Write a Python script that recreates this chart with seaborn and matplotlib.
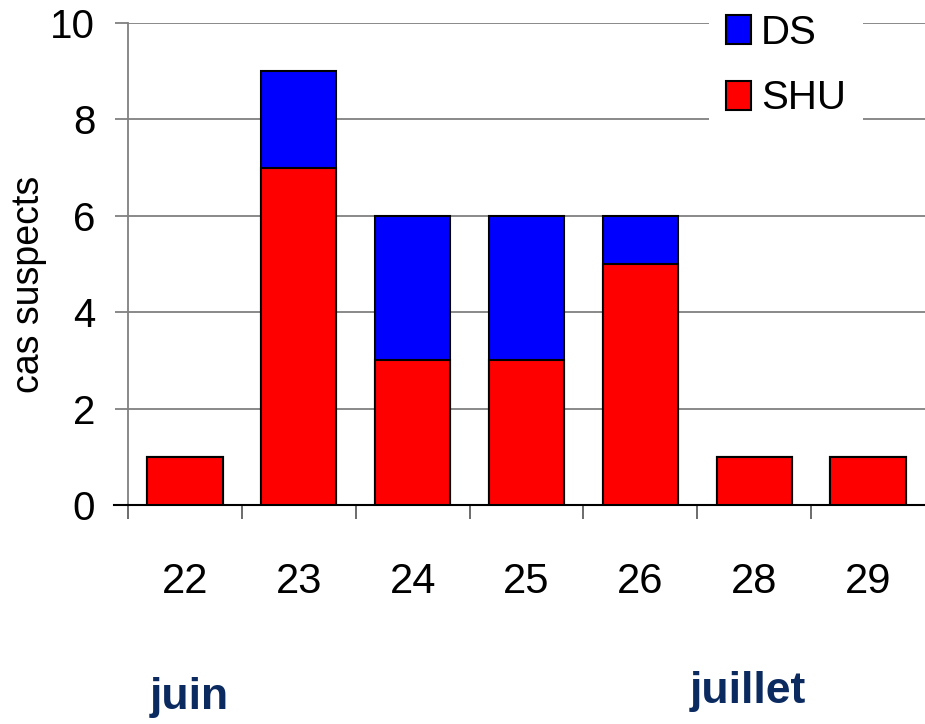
import matplotlib
matplotlib.use("Agg")
import matplotlib.pyplot as plt
import seaborn as sns
import pandas as pd
import numpy as np

weeks = ["22", "23", "24", "25", "26", "28", "29"]
shu = [1, 7, 3, 3, 5, 1, 1]
ds = [0, 2, 3, 3, 1, 0, 0]
yticks = [0, 2, 4, 6, 8, 10]

sns.set_theme(style="white")
plt.rcParams['font.family'] = ['Liberation Sans', 'DejaVu Sans']
plt.rcParams['text.color'] = 'black'
plt.rcParams['axes.labelcolor'] = 'black'

df = pd.DataFrame({"week": weeks, "SHU": shu, "DS": ds})
df["total"] = df["SHU"] + df["DS"]

fig = plt.figure(figsize=(9.25, 7.24), dpi=100)
ax = fig.add_axes([128/925, 1-505/724, 797/925, 482/724])

for y in yticks:
    ax.axhline(y, color="#808080", lw=1.3, zorder=0)

sns.barplot(data=df, x="week", y="total", color="#0000ff", edgecolor="black",
            linewidth=1.5, width=0.66, saturation=1, ax=ax, label="DS", zorder=2)
sns.barplot(data=df, x="week", y="SHU", color="#ff0000", edgecolor="black",
            linewidth=1.5, width=0.66, saturation=1, ax=ax, label="SHU", zorder=3)
if ax.get_legend() is not None:
    ax.get_legend().remove()

ax.set_xlim(-0.5, 6.5)
ax.set_ylim(0, 10)
ax.set_yticks(yticks)
ax.tick_params(axis="y", which="major", length=9.5, width=1.3, color="#808080",
               labelcolor="black", direction="out", left=True, pad=14, labelsize=29)
ax.tick_params(axis="x", which="major", length=0, pad=41, labelsize=30,
               labelcolor="black")
ax.set_xticks(np.arange(-0.5, 6.0, 1.0), minor=True)
ax.tick_params(axis="x", which="minor", length=10, width=1.3, color="#606060",
               direction="out", bottom=True)
ax.set_xlabel("")
ax.set_ylabel("cas suspects", fontsize=27, color="black")
ax.yaxis.set_label_coords(-0.1016, 0.4585)

for s in ["top", "right"]:
    ax.spines[s].set_visible(False)
ax.spines["left"].set_color("#808080")
ax.spines["left"].set_linewidth(1.3)
ax.spines["bottom"].set_color("black")
ax.spines["bottom"].set_linewidth(1.5)
ax.spines["bottom"].set_bounds(-0.62, 6.5)

h, l = ax.get_legend_handles_labels()
leg = fig.legend(h, l, loc="upper left", bbox_to_anchor=(709/925, 1 + 3/724),
                 fontsize=29, frameon=True, facecolor="white", edgecolor="white",
                 framealpha=1, fancybox=False, handlelength=0.62, handleheight=0.74,
                 handletextpad=0.25, labelspacing=0.68, borderpad=0.42, borderaxespad=0)
leg.get_frame().set_linewidth(0)
leg.set_zorder(10)

navy = "#0b2a60"
fig.text(189/925, 1-697/724, "juin", ha="center", va="center", fontsize=32,
         fontweight="bold", color=navy)
fig.text(748/925, 1-692/724, "juillet", ha="center", va="center", fontsize=32,
         fontweight="bold", color=navy)

fig.savefig("out.png", dpi=100)
